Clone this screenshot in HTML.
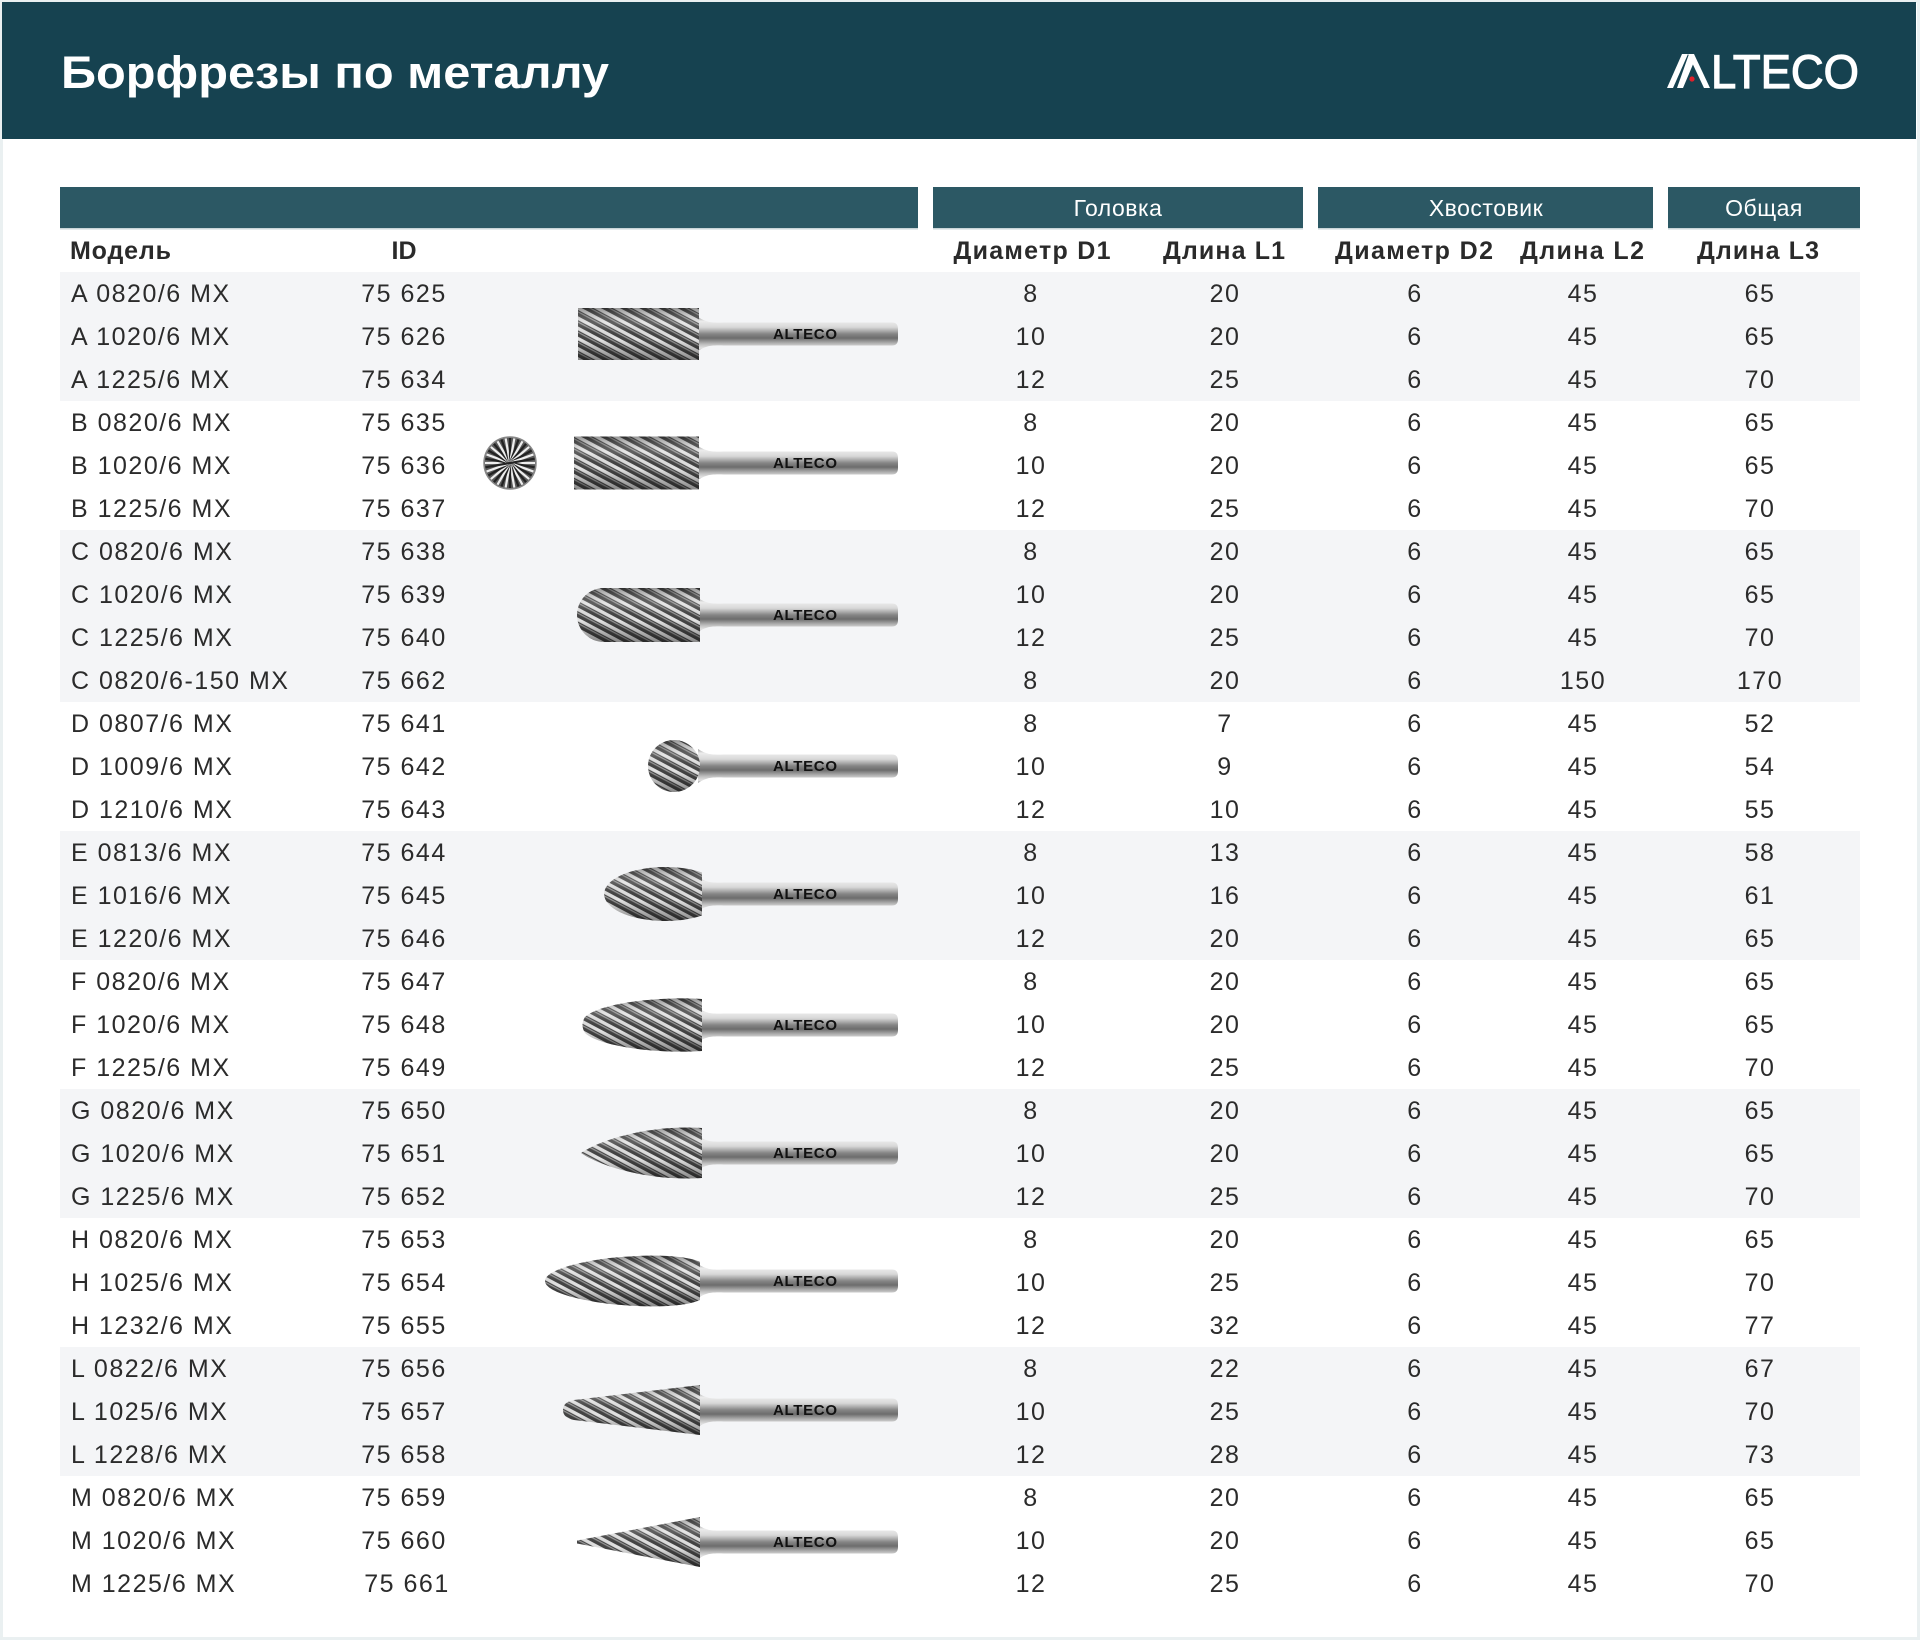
<!DOCTYPE html>
<html><head><meta charset="utf-8"><style>
html,body{margin:0;padding:0;background:#fff;}
svg{display:block;}
text{font-family:"Liberation Sans","DejaVu Sans",sans-serif;}
.d{font-size:25px;fill:#2b2b2b;letter-spacing:1.5px;}
.c{text-anchor:middle;}
.h{font-size:25px;font-weight:bold;fill:#2a2a2a;}
.g{font-size:23px;fill:#fff;text-anchor:middle;letter-spacing:0.5px;}
.lg{font-size:15px;font-weight:bold;fill:#111;}
</style></head><body>
<svg width="1920" height="1640" viewBox="0 0 1920 1640" xmlns="http://www.w3.org/2000/svg">
<defs>
<pattern id="fl" width="9" height="9" patternUnits="userSpaceOnUse" patternTransform="rotate(28)">
<rect width="9" height="9" fill="#444"/><rect y="1" width="9" height="3.4" fill="#e2e2e2"/><rect y="5.5" width="9" height="1.2" fill="#999"/>
</pattern>
<linearGradient id="hsh" x1="0" y1="0" x2="0" y2="1">
<stop offset="0" stop-color="#000" stop-opacity="0.35"/><stop offset="0.3" stop-color="#fff" stop-opacity="0.15"/><stop offset="0.6" stop-color="#000" stop-opacity="0"/><stop offset="1" stop-color="#000" stop-opacity="0.4"/>
</linearGradient>
<linearGradient id="sh" x1="0" y1="0" x2="0" y2="1">
<stop offset="0" stop-color="#a0a0a0"/><stop offset="0.12" stop-color="#ececec"/><stop offset="0.3" stop-color="#d8d8d8"/><stop offset="0.5" stop-color="#858585"/><stop offset="0.62" stop-color="#6c6c6c"/><stop offset="0.8" stop-color="#bdbdbd"/><stop offset="0.92" stop-color="#e4e4e4"/><stop offset="1" stop-color="#959595"/>
</linearGradient>
<path id="shank" d="M698,-17 C706,-12 710,-11 724,-11.5 L892,-11.5 Q898,-11.5 898,-5 L898,5 Q898,11.5 892,11.5 L724,11.5 C710,11 706,12 698,17 Z"/>
<rect id="hA" x="578" y="-26" width="121" height="52"/>
<rect id="hB" x="574" y="-26.5" width="125" height="53"/>
<path id="hC" d="M700,-27 L604,-27 A27,27 0 0 0 604,27 L700,27 Z"/>
<circle id="hD" cx="674" cy="0" r="26"/>
<path id="hE" d="M702,-21.5 A61,27 0 1 0 702,21.5 Z"/>
<path id="hF" d="M702,-26 C660,-29 600,-22 585,-8 Q580,0 585,8 C600,22 660,29 702,26 Z"/>
<path id="hG" d="M702,-25 C655,-28 605,-16 581,0 C605,16 655,28 702,25 Z"/>
<path id="hH" d="M700,-19 C685,-26 650,-27 610,-23 C570,-18 545,-9 545,0 C545,9 570,18 610,23 C650,27 685,26 700,19 Z"/>
<path id="hL" d="M700,-25 L574,-10 Q563,-8 563,0 Q563,8 574,10 L700,25 Z"/>
<path id="hM" d="M700,-25 L577,-1.5 L577,1.5 L700,25 Z"/>
</defs>

<!-- frame -->
<rect width="1920" height="1640" fill="#eaf0f1"/>
<rect x="3" y="3" width="1914" height="1634" fill="#fff"/>
<!-- header band -->
<rect x="2" y="2" width="1914" height="137" fill="#164250"/>
<text x="61" y="88" font-size="45" font-weight="bold" fill="#fff" textLength="548" lengthAdjust="spacingAndGlyphs">Борфрезы по металлу</text>
<!-- logo -->
<polygon points="1667,88 1673,88 1688,54 1682,54" fill="#fff"/>
<polygon points="1677,88 1683,88 1694,62 1696,66 1692,54 1689,54" fill="#fff"/>
<polygon points="1688,54 1694,54 1710,88 1704,88" fill="#fff"/>
<circle cx="1692" cy="79" r="2.6" fill="#e0202a"/>
<text x="1711" y="88" font-size="47" fill="#fff" stroke="#fff" stroke-width="1.2" textLength="148" lengthAdjust="spacingAndGlyphs">LTECO</text>

<!-- group header bars -->
<rect x="60" y="187" width="858" height="42" fill="#2c5864"/>
<rect x="933" y="187" width="370" height="42" fill="#2c5864"/>
<rect x="1318" y="187" width="335" height="42" fill="#2c5864"/>
<rect x="1668" y="187" width="192" height="42" fill="#2c5864"/>
<rect x="60" y="228" width="858" height="1.5" fill="#c9d5d8"/>
<rect x="933" y="228" width="370" height="1.5" fill="#c9d5d8"/>
<rect x="1318" y="228" width="335" height="1.5" fill="#c9d5d8"/>
<rect x="1668" y="228" width="192" height="1.5" fill="#c9d5d8"/>
<text class="g" x="1118" y="216">Головка</text>
<text class="g" x="1486" y="216">Хвостовик</text>
<text class="g" x="1764" y="216">Общая</text>

<!-- column headers -->
<text class="h" x="70" y="259" textLength="101">Модель</text>
<text class="h c" x="404" y="259">ID</text>
<text class="h c" x="1032" y="259" textLength="157">Диаметр D1</text>
<text class="h c" x="1224" y="259" textLength="122">Длина L1</text>
<text class="h c" x="1414" y="259" textLength="158">Диаметр D2</text>
<text class="h c" x="1582" y="259" textLength="124">Длина L2</text>
<text class="h c" x="1758" y="259" textLength="122">Длина L3</text>

<!-- row shading -->
<rect x="60" y="272" width="1800" height="129" fill="#f4f5f7"/>
<rect x="60" y="530" width="1800" height="172" fill="#f4f5f7"/>
<rect x="60" y="831" width="1800" height="129" fill="#f4f5f7"/>
<rect x="60" y="1089" width="1800" height="129" fill="#f4f5f7"/>
<rect x="60" y="1347" width="1800" height="129" fill="#f4f5f7"/>

<!-- data rows -->
<g class="d">
<text x="71" y="302">A 0820/6 MX</text><text class="c" x="404" y="302">75 625</text><text class="c" x="1031" y="302">8</text><text class="c" x="1225" y="302">20</text><text class="c" x="1415" y="302">6</text><text class="c" x="1583" y="302">45</text><text class="c" x="1760" y="302">65</text>
<text x="71" y="345">A 1020/6 MX</text><text class="c" x="404" y="345">75 626</text><text class="c" x="1031" y="345">10</text><text class="c" x="1225" y="345">20</text><text class="c" x="1415" y="345">6</text><text class="c" x="1583" y="345">45</text><text class="c" x="1760" y="345">65</text>
<text x="71" y="388">A 1225/6 MX</text><text class="c" x="404" y="388">75 634</text><text class="c" x="1031" y="388">12</text><text class="c" x="1225" y="388">25</text><text class="c" x="1415" y="388">6</text><text class="c" x="1583" y="388">45</text><text class="c" x="1760" y="388">70</text>
<text x="71" y="431">B 0820/6 MX</text><text class="c" x="404" y="431">75 635</text><text class="c" x="1031" y="431">8</text><text class="c" x="1225" y="431">20</text><text class="c" x="1415" y="431">6</text><text class="c" x="1583" y="431">45</text><text class="c" x="1760" y="431">65</text>
<text x="71" y="474">B 1020/6 MX</text><text class="c" x="404" y="474">75 636</text><text class="c" x="1031" y="474">10</text><text class="c" x="1225" y="474">20</text><text class="c" x="1415" y="474">6</text><text class="c" x="1583" y="474">45</text><text class="c" x="1760" y="474">65</text>
<text x="71" y="517">B 1225/6 MX</text><text class="c" x="404" y="517">75 637</text><text class="c" x="1031" y="517">12</text><text class="c" x="1225" y="517">25</text><text class="c" x="1415" y="517">6</text><text class="c" x="1583" y="517">45</text><text class="c" x="1760" y="517">70</text>
<text x="71" y="560">C 0820/6 MX</text><text class="c" x="404" y="560">75 638</text><text class="c" x="1031" y="560">8</text><text class="c" x="1225" y="560">20</text><text class="c" x="1415" y="560">6</text><text class="c" x="1583" y="560">45</text><text class="c" x="1760" y="560">65</text>
<text x="71" y="603">C 1020/6 MX</text><text class="c" x="404" y="603">75 639</text><text class="c" x="1031" y="603">10</text><text class="c" x="1225" y="603">20</text><text class="c" x="1415" y="603">6</text><text class="c" x="1583" y="603">45</text><text class="c" x="1760" y="603">65</text>
<text x="71" y="646">C 1225/6 MX</text><text class="c" x="404" y="646">75 640</text><text class="c" x="1031" y="646">12</text><text class="c" x="1225" y="646">25</text><text class="c" x="1415" y="646">6</text><text class="c" x="1583" y="646">45</text><text class="c" x="1760" y="646">70</text>
<text x="71" y="689">C 0820/6-150 MX</text><text class="c" x="404" y="689">75 662</text><text class="c" x="1031" y="689">8</text><text class="c" x="1225" y="689">20</text><text class="c" x="1415" y="689">6</text><text class="c" x="1583" y="689">150</text><text class="c" x="1760" y="689">170</text>
<text x="71" y="732">D 0807/6 MX</text><text class="c" x="404" y="732">75 641</text><text class="c" x="1031" y="732">8</text><text class="c" x="1225" y="732">7</text><text class="c" x="1415" y="732">6</text><text class="c" x="1583" y="732">45</text><text class="c" x="1760" y="732">52</text>
<text x="71" y="775">D 1009/6 MX</text><text class="c" x="404" y="775">75 642</text><text class="c" x="1031" y="775">10</text><text class="c" x="1225" y="775">9</text><text class="c" x="1415" y="775">6</text><text class="c" x="1583" y="775">45</text><text class="c" x="1760" y="775">54</text>
<text x="71" y="818">D 1210/6 MX</text><text class="c" x="404" y="818">75 643</text><text class="c" x="1031" y="818">12</text><text class="c" x="1225" y="818">10</text><text class="c" x="1415" y="818">6</text><text class="c" x="1583" y="818">45</text><text class="c" x="1760" y="818">55</text>
<text x="71" y="861">E 0813/6 MX</text><text class="c" x="404" y="861">75 644</text><text class="c" x="1031" y="861">8</text><text class="c" x="1225" y="861">13</text><text class="c" x="1415" y="861">6</text><text class="c" x="1583" y="861">45</text><text class="c" x="1760" y="861">58</text>
<text x="71" y="904">E 1016/6 MX</text><text class="c" x="404" y="904">75 645</text><text class="c" x="1031" y="904">10</text><text class="c" x="1225" y="904">16</text><text class="c" x="1415" y="904">6</text><text class="c" x="1583" y="904">45</text><text class="c" x="1760" y="904">61</text>
<text x="71" y="947">E 1220/6 MX</text><text class="c" x="404" y="947">75 646</text><text class="c" x="1031" y="947">12</text><text class="c" x="1225" y="947">20</text><text class="c" x="1415" y="947">6</text><text class="c" x="1583" y="947">45</text><text class="c" x="1760" y="947">65</text>
<text x="71" y="990">F 0820/6 MX</text><text class="c" x="404" y="990">75 647</text><text class="c" x="1031" y="990">8</text><text class="c" x="1225" y="990">20</text><text class="c" x="1415" y="990">6</text><text class="c" x="1583" y="990">45</text><text class="c" x="1760" y="990">65</text>
<text x="71" y="1033">F 1020/6 MX</text><text class="c" x="404" y="1033">75 648</text><text class="c" x="1031" y="1033">10</text><text class="c" x="1225" y="1033">20</text><text class="c" x="1415" y="1033">6</text><text class="c" x="1583" y="1033">45</text><text class="c" x="1760" y="1033">65</text>
<text x="71" y="1076">F 1225/6 MX</text><text class="c" x="404" y="1076">75 649</text><text class="c" x="1031" y="1076">12</text><text class="c" x="1225" y="1076">25</text><text class="c" x="1415" y="1076">6</text><text class="c" x="1583" y="1076">45</text><text class="c" x="1760" y="1076">70</text>
<text x="71" y="1119">G 0820/6 MX</text><text class="c" x="404" y="1119">75 650</text><text class="c" x="1031" y="1119">8</text><text class="c" x="1225" y="1119">20</text><text class="c" x="1415" y="1119">6</text><text class="c" x="1583" y="1119">45</text><text class="c" x="1760" y="1119">65</text>
<text x="71" y="1162">G 1020/6 MX</text><text class="c" x="404" y="1162">75 651</text><text class="c" x="1031" y="1162">10</text><text class="c" x="1225" y="1162">20</text><text class="c" x="1415" y="1162">6</text><text class="c" x="1583" y="1162">45</text><text class="c" x="1760" y="1162">65</text>
<text x="71" y="1205">G 1225/6 MX</text><text class="c" x="404" y="1205">75 652</text><text class="c" x="1031" y="1205">12</text><text class="c" x="1225" y="1205">25</text><text class="c" x="1415" y="1205">6</text><text class="c" x="1583" y="1205">45</text><text class="c" x="1760" y="1205">70</text>
<text x="71" y="1248">H 0820/6 MX</text><text class="c" x="404" y="1248">75 653</text><text class="c" x="1031" y="1248">8</text><text class="c" x="1225" y="1248">20</text><text class="c" x="1415" y="1248">6</text><text class="c" x="1583" y="1248">45</text><text class="c" x="1760" y="1248">65</text>
<text x="71" y="1291">H 1025/6 MX</text><text class="c" x="404" y="1291">75 654</text><text class="c" x="1031" y="1291">10</text><text class="c" x="1225" y="1291">25</text><text class="c" x="1415" y="1291">6</text><text class="c" x="1583" y="1291">45</text><text class="c" x="1760" y="1291">70</text>
<text x="71" y="1334">H 1232/6 MX</text><text class="c" x="404" y="1334">75 655</text><text class="c" x="1031" y="1334">12</text><text class="c" x="1225" y="1334">32</text><text class="c" x="1415" y="1334">6</text><text class="c" x="1583" y="1334">45</text><text class="c" x="1760" y="1334">77</text>
<text x="71" y="1377">L 0822/6 MX</text><text class="c" x="404" y="1377">75 656</text><text class="c" x="1031" y="1377">8</text><text class="c" x="1225" y="1377">22</text><text class="c" x="1415" y="1377">6</text><text class="c" x="1583" y="1377">45</text><text class="c" x="1760" y="1377">67</text>
<text x="71" y="1420">L 1025/6 MX</text><text class="c" x="404" y="1420">75 657</text><text class="c" x="1031" y="1420">10</text><text class="c" x="1225" y="1420">25</text><text class="c" x="1415" y="1420">6</text><text class="c" x="1583" y="1420">45</text><text class="c" x="1760" y="1420">70</text>
<text x="71" y="1463">L 1228/6 MX</text><text class="c" x="404" y="1463">75 658</text><text class="c" x="1031" y="1463">12</text><text class="c" x="1225" y="1463">28</text><text class="c" x="1415" y="1463">6</text><text class="c" x="1583" y="1463">45</text><text class="c" x="1760" y="1463">73</text>
<text x="71" y="1506">M 0820/6 MX</text><text class="c" x="404" y="1506">75 659</text><text class="c" x="1031" y="1506">8</text><text class="c" x="1225" y="1506">20</text><text class="c" x="1415" y="1506">6</text><text class="c" x="1583" y="1506">45</text><text class="c" x="1760" y="1506">65</text>
<text x="71" y="1549">M 1020/6 MX</text><text class="c" x="404" y="1549">75 660</text><text class="c" x="1031" y="1549">10</text><text class="c" x="1225" y="1549">20</text><text class="c" x="1415" y="1549">6</text><text class="c" x="1583" y="1549">45</text><text class="c" x="1760" y="1549">65</text>
<text x="71" y="1592">M 1225/6 MX</text><text class="c" x="407" y="1592">75 661</text><text class="c" x="1031" y="1592">12</text><text class="c" x="1225" y="1592">25</text><text class="c" x="1415" y="1592">6</text><text class="c" x="1583" y="1592">45</text><text class="c" x="1760" y="1592">70</text>
</g>

<!-- burrs -->
<g transform="translate(0,334)"><use href="#shank" fill="url(#sh)"/><use href="#hA" fill="url(#fl)"/><use href="#hA" fill="url(#hsh)"/><text class="lg" x="773" y="5" textLength="64">ALTECO</text></g>
<g transform="translate(0,463)"><use href="#shank" fill="url(#sh)"/><use href="#hB" fill="url(#fl)"/><use href="#hB" fill="url(#hsh)"/><text class="lg" x="773" y="5" textLength="64">ALTECO</text></g>
<g transform="translate(0,615)"><use href="#shank" fill="url(#sh)"/><use href="#hC" fill="url(#fl)"/><use href="#hC" fill="url(#hsh)"/><text class="lg" x="773" y="5" textLength="64">ALTECO</text></g>
<g transform="translate(0,766)"><use href="#shank" fill="url(#sh)"/><use href="#hD" fill="url(#fl)"/><use href="#hD" fill="url(#hsh)"/><text class="lg" x="773" y="5" textLength="64">ALTECO</text></g>
<g transform="translate(0,894)"><use href="#shank" fill="url(#sh)"/><use href="#hE" fill="url(#fl)"/><use href="#hE" fill="url(#hsh)"/><text class="lg" x="773" y="5" textLength="64">ALTECO</text></g>
<g transform="translate(0,1025)"><use href="#shank" fill="url(#sh)"/><use href="#hF" fill="url(#fl)"/><use href="#hF" fill="url(#hsh)"/><text class="lg" x="773" y="5" textLength="64">ALTECO</text></g>
<g transform="translate(0,1153)"><use href="#shank" fill="url(#sh)"/><use href="#hG" fill="url(#fl)"/><use href="#hG" fill="url(#hsh)"/><text class="lg" x="773" y="5" textLength="64">ALTECO</text></g>
<g transform="translate(0,1281)"><use href="#shank" fill="url(#sh)"/><use href="#hH" fill="url(#fl)"/><use href="#hH" fill="url(#hsh)"/><text class="lg" x="773" y="5" textLength="64">ALTECO</text></g>
<g transform="translate(0,1410)"><use href="#shank" fill="url(#sh)"/><use href="#hL" fill="url(#fl)"/><use href="#hL" fill="url(#hsh)"/><text class="lg" x="773" y="5" textLength="64">ALTECO</text></g>
<g transform="translate(0,1542)"><use href="#shank" fill="url(#sh)"/><use href="#hM" fill="url(#fl)"/><use href="#hM" fill="url(#hsh)"/><text class="lg" x="773" y="5" textLength="64">ALTECO</text></g>

<!-- B end view -->
<g transform="translate(510,463)">
<circle r="26" fill="#5a5a5a"/>
<g stroke-width="2.2">
<line x1="-25" y1="0" x2="25" y2="0" stroke="#eee"/>
<line x1="-25" y1="0" x2="25" y2="0" stroke="#222" transform="rotate(10)"/>
<line x1="-25" y1="0" x2="25" y2="0" stroke="#eee" transform="rotate(20)"/>
<line x1="-25" y1="0" x2="25" y2="0" stroke="#222" transform="rotate(30)"/>
<line x1="-25" y1="0" x2="25" y2="0" stroke="#eee" transform="rotate(40)"/>
<line x1="-25" y1="0" x2="25" y2="0" stroke="#222" transform="rotate(50)"/>
<line x1="-25" y1="0" x2="25" y2="0" stroke="#eee" transform="rotate(60)"/>
<line x1="-25" y1="0" x2="25" y2="0" stroke="#222" transform="rotate(70)"/>
<line x1="-25" y1="0" x2="25" y2="0" stroke="#eee" transform="rotate(80)"/>
<line x1="-25" y1="0" x2="25" y2="0" stroke="#222" transform="rotate(90)"/>
<line x1="-25" y1="0" x2="25" y2="0" stroke="#eee" transform="rotate(100)"/>
<line x1="-25" y1="0" x2="25" y2="0" stroke="#222" transform="rotate(110)"/>
<line x1="-25" y1="0" x2="25" y2="0" stroke="#eee" transform="rotate(120)"/>
<line x1="-25" y1="0" x2="25" y2="0" stroke="#222" transform="rotate(130)"/>
<line x1="-25" y1="0" x2="25" y2="0" stroke="#eee" transform="rotate(140)"/>
<line x1="-25" y1="0" x2="25" y2="0" stroke="#222" transform="rotate(150)"/>
<line x1="-25" y1="0" x2="25" y2="0" stroke="#eee" transform="rotate(160)"/>
<line x1="-25" y1="0" x2="25" y2="0" stroke="#222" transform="rotate(170)"/>
</g>
<circle r="26" fill="none" stroke="#888" stroke-width="1.5"/>
</g>
</svg>
</body></html>
